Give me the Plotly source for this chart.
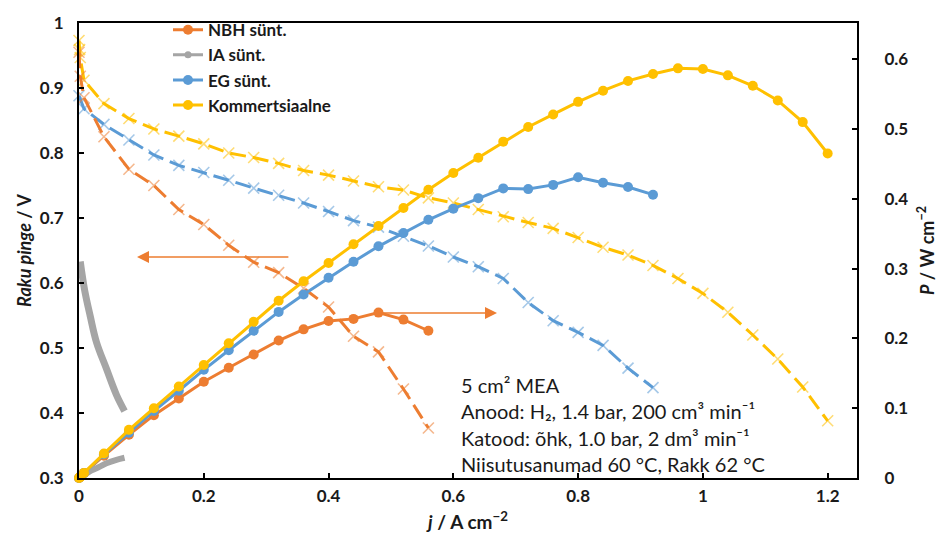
import plotly.graph_objects as go

# ---------------- data ----------------
nbh_j = [0, 0.002, 0.008, 0.04, 0.08, 0.12, 0.16, 0.2, 0.24, 0.28, 0.32, 0.36, 0.4, 0.44, 0.48, 0.52, 0.56]
nbh_V = [0.955, 0.918, 0.885, 0.825, 0.775, 0.750, 0.713, 0.690, 0.658, 0.632, 0.616, 0.592, 0.563, 0.518, 0.494, 0.437, 0.377]
nbh_P = [0, 0.002, 0.007, 0.032, 0.062, 0.090, 0.114, 0.138, 0.158, 0.177, 0.197, 0.213, 0.225, 0.228, 0.237, 0.227, 0.211]

ia_j = [0.002, 0.009, 0.018, 0.028, 0.044, 0.060, 0.073]
ia_V = [0.633, 0.589, 0.549, 0.509, 0.468, 0.428, 0.403]
ia_P = [0.001, 0.005, 0.010, 0.014, 0.021, 0.026, 0.029]

eg_j = [0, 0.008, 0.04, 0.08, 0.12, 0.16, 0.2, 0.24, 0.28, 0.32, 0.36, 0.4, 0.44, 0.48,
        0.52, 0.56, 0.6, 0.64, 0.68, 0.72, 0.76, 0.8, 0.84, 0.88, 0.92]
eg_V = [0.888, 0.868, 0.844, 0.820, 0.797, 0.781, 0.770, 0.758, 0.746, 0.735, 0.723, 0.710, 0.696, 0.686,
        0.672, 0.657, 0.640, 0.625, 0.607, 0.570, 0.542, 0.524, 0.504, 0.469, 0.439]
eg_P = [0, 0.007, 0.034, 0.065, 0.096, 0.125, 0.155, 0.183, 0.211, 0.238, 0.263, 0.287, 0.310, 0.332,
        0.351, 0.370, 0.386, 0.401, 0.415, 0.414, 0.420, 0.431, 0.423, 0.417, 0.406]

kom_j = [0, 0.001, 0.002, 0.008, 0.04, 0.08, 0.12, 0.16, 0.2, 0.24, 0.28, 0.32, 0.36, 0.4, 0.44, 0.48,
         0.52, 0.56, 0.6, 0.64, 0.68, 0.72, 0.76, 0.8, 0.84, 0.88, 0.92, 0.96, 1.0, 1.04, 1.08, 1.12, 1.16, 1.2]
kom_V = [0.973, 0.959, 0.947, 0.912, 0.876, 0.853, 0.837, 0.826, 0.814, 0.800, 0.793, 0.784, 0.773, 0.766,
         0.757, 0.748, 0.743, 0.731, 0.723, 0.713, 0.702, 0.693, 0.684, 0.670, 0.655, 0.643, 0.627, 0.607,
         0.584, 0.555, 0.520, 0.483, 0.440, 0.388]
kom_P = [0, 0.001, 0.002, 0.0073, 0.035, 0.069, 0.100, 0.131, 0.162, 0.193, 0.224, 0.254, 0.282, 0.308,
         0.335, 0.361, 0.387, 0.413, 0.437, 0.459, 0.482, 0.503, 0.521, 0.539, 0.555, 0.569, 0.579, 0.587,
         0.586, 0.577, 0.562, 0.541, 0.510, 0.465]

x_ticks = [0, 0.2, 0.4, 0.6, 0.8, 1.0, 1.2]
x_tick_labels = ["0", "0.2", "0.4", "0.6", "0.8", "1", "1.2"]
yl_ticks = [0.3, 0.4, 0.5, 0.6, 0.7, 0.8, 0.9, 1.0]
yl_tick_labels = ["0.3", "0.4", "0.5", "0.6", "0.7", "0.8", "0.9", "1"]
yr_ticks = [0, 0.1, 0.2, 0.3, 0.4, 0.5, 0.6]
yr_tick_labels = ["0", "0.1", "0.2", "0.3", "0.4", "0.5", "0.6"]

info_lines = ["5 cm² MEA",
              "Anood: H₂, 1.4 bar, 200 cm³ min⁻¹",
              "Katood: õhk, 1.0 bar, 2 dm³ min⁻¹",
              "Niisutusanumad 60 °C, Rakk 62 °C"]

# ---------------- style ----------------
ORANGE = "#ED7D31"
GRAY = "#A5A5A5"
BLUE = "#5B9BD5"
YELLOW = "#FFC000"
ORANGE_T = "rgba(237,125,49,0.55)"
BLUE_T = "rgba(91,155,213,0.55)"
YELLOW_T = "rgba(255,192,0,0.55)"
FONT = "Lato"
TXT = "#1a1a1a"
DASH = "16px,7px"

fig = go.Figure()

def v_trace(x, y, col, colt, name):
    return go.Scatter(x=x, y=y, mode="lines+markers", name=name, showlegend=False,
                      line=dict(color=col, width=3, dash=DASH),
                      marker=dict(symbol="x-thin", size=11, line=dict(color=colt, width=1.6)),
                      cliponaxis=False, yaxis="y")

def p_trace(x, y, col, name):
    return go.Scatter(x=x, y=y, mode="lines+markers", name=name,
                      line=dict(color=col, width=3),
                      marker=dict(symbol="circle", size=10, color=col),
                      cliponaxis=False, yaxis="y2")

# V curves (dashed)
fig.add_trace(v_trace(kom_j, kom_V, YELLOW, YELLOW_T, "Kommertsiaalne V"))
fig.add_trace(v_trace(eg_j, eg_V, BLUE, BLUE_T, "EG sünt. V"))
fig.add_trace(v_trace(nbh_j, nbh_V, ORANGE, ORANGE_T, "NBH sünt. V"))
fig.add_trace(go.Scatter(x=ia_j, y=ia_V, mode="lines", showlegend=False, name="IA sünt. V",
                         line=dict(color=GRAY, width=7, shape="spline"), yaxis="y"))

# P curves (solid)
fig.add_trace(p_trace(nbh_j, nbh_P, ORANGE, "NBH sünt."))
fig.add_trace(go.Scatter(x=ia_j, y=ia_P, mode="lines", showlegend=False, name="IA sünt. P",
                         line=dict(color=GRAY, width=6, shape="spline"), yaxis="y2"))
# legend entry for IA
fig.add_trace(go.Scatter(x=[None], y=[None], mode="lines+markers", name="IA sünt.",
                         line=dict(color=GRAY, width=3), marker=dict(size=7, color=GRAY), yaxis="y2"))
fig.add_trace(p_trace(eg_j, eg_P, BLUE, "EG sünt."))
fig.add_trace(p_trace(kom_j, kom_P, YELLOW, "Kommertsiaalne"))

# arrows
fig.add_annotation(x=0.093, y=0.640, ax=0.338, ay=0.640, xref="x", yref="y", axref="x", ayref="y",
                   text="", showarrow=True, arrowhead=2, arrowsize=1.6, arrowwidth=1.5, arrowcolor=ORANGE)
fig.add_annotation(x=0.67, y=0.554, ax=0.482, ay=0.554, xref="x", yref="y", axref="x", ayref="y",
                   text="", showarrow=True, arrowhead=2, arrowsize=1.6, arrowwidth=1.5, arrowcolor=ORANGE)

# info text
PL, PW, PT, PH = 79, 778, 15, 463
for i, line in enumerate(info_lines):
    ypx = 383 + i * 27
    fig.add_annotation(x=(459 - PL) / PW, y=(PT + PH - ypx) / PH, xref="paper", yref="paper",
                       text=line, showarrow=False, xanchor="left", yanchor="middle",
                       font=dict(family=FONT, size=20, color=TXT))

axis_common = dict(showline=True, linecolor="black", linewidth=2, ticks="inside", ticklen=5,
                   tickcolor="black", tickwidth=2, showgrid=False, zeroline=False,
                   tickfont=dict(family=FONT, size=17, color=TXT, weight="bold"))

fig.update_layout(
    width=944, height=546,
    margin=dict(l=PL, r=944 - PL - PW, t=PT, b=546 - PT - PH),
    paper_bgcolor="white", plot_bgcolor="white",
    font=dict(family=FONT, color=TXT),
    xaxis=dict(range=[0, 1.247], tickvals=x_ticks, ticktext=x_tick_labels, mirror=True,
               ticklabelstandoff=2,
               title=dict(text="<i>j</i> / A cm<sup>−2</sup>", font=dict(family=FONT, size=19, weight="bold"),
                          standoff=10),
               **axis_common),
    yaxis=dict(range=[0.3, 1.0], tickvals=yl_ticks, ticktext=yl_tick_labels, mirror=True,
               ticklabelstandoff=10,
               title=dict(text="<i>Raku pinge</i> / V", font=dict(family=FONT, size=18, weight="bold"),
                          standoff=4),
               **axis_common),
    yaxis2=dict(range=[0, 0.652], tickvals=yr_ticks, ticktext=yr_tick_labels, overlaying="y", side="right",
                ticklabelstandoff=22, automargin=False,
                title=dict(text="<i>P</i> / W cm<sup>−2</sup>", font=dict(family=FONT, size=18, weight="bold"),
                           standoff=14),
                **axis_common),
    legend=dict(x=(168 - PL) / PW, y=(PT + PH - 4) / PH, xanchor="left", yanchor="top",
                bgcolor="rgba(255,255,255,0)",
                font=dict(family=FONT, size=17, color=TXT, weight="bold")),
)

fig.write_html("out.html")
